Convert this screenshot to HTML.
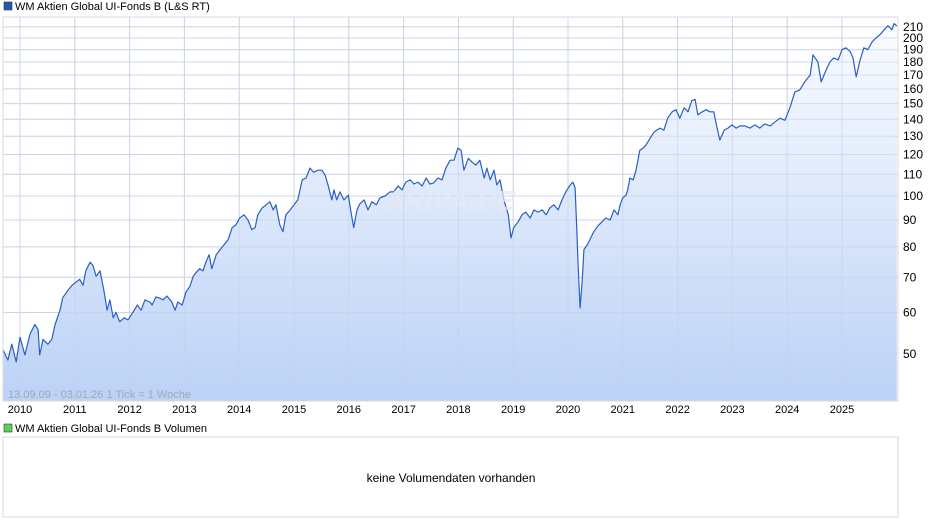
<!DOCTYPE html>
<html><head><meta charset="utf-8">
<style>
body{margin:0;background:#fff;font-family:"Liberation Sans",sans-serif;}
svg{display:block}
</style></head>
<body>
<svg id="c" width="940" height="526" viewBox="0 0 940 526">
<defs>
<linearGradient id="g" x1="0" y1="0" x2="0" y2="1">
<stop offset="0" stop-color="#fafcff"/>
<stop offset="1" stop-color="#b8cff6"/>
</linearGradient>
</defs>
<rect x="4" y="2" width="8" height="8" fill="#2456b8" stroke="#333" stroke-width="0.6"/>
<text x="15" y="10" font-size="11" fill="#000">WM Aktien Global UI-Fonds B (L&amp;S RT)</text>
<g id="grid"></g>
<g id="plot"></g>
<text x="450" y="210" font-size="28" font-style="italic" font-weight="bold" fill="#e6ebf3" text-anchor="middle" opacity="0.7">ARIVA.DE</text>
<rect x="3" y="17" width="895" height="384" fill="none" stroke="#d8d8d8"/>
<g id="axes"></g>
<text x="8" y="398" font-size="11" fill="#a0a8b4">13.09.09 - 03.01.26   1 Tick = 1 Woche</text>
<rect x="4" y="424" width="8" height="8" fill="#5cd05c" stroke="#333" stroke-width="0.6"/>
<text x="15" y="432" font-size="11" fill="#000">WM Aktien Global UI-Fonds B Volumen</text>
<rect x="3" y="437" width="895" height="80" fill="#fff" stroke="#d8d8d8"/>
<text x="451" y="482" font-size="12" fill="#000" text-anchor="middle">keine Volumendaten vorhanden</text>
</svg>
<script>
const dates=[2009.69,2009.78,2009.85,2009.93,2010.00,2010.09,2010.18,2010.27,2010.33,2010.36,2010.42,2010.51,2010.58,2010.64,2010.73,2010.78,2010.88,2010.95,2011.02,2011.09,2011.15,2011.20,2011.28,2011.33,2011.39,2011.46,2011.53,2011.59,2011.64,2011.70,2011.75,2011.82,2011.90,2011.97,2012.06,2012.14,2012.21,2012.28,2012.37,2012.41,2012.48,2012.55,2012.61,2012.68,2012.77,2012.83,2012.88,2012.96,2013.03,2013.10,2013.16,2013.21,2013.28,2013.34,2013.39,2013.45,2013.50,2013.58,2013.65,2013.72,2013.80,2013.87,2013.94,2014.01,2014.09,2014.16,2014.23,2014.29,2014.34,2014.42,2014.49,2014.56,2014.62,2014.67,2014.74,2014.80,2014.85,2014.93,2015.00,2015.07,2015.15,2015.22,2015.29,2015.36,2015.44,2015.51,2015.57,2015.62,2015.69,2015.73,2015.78,2015.84,2015.91,2015.99,2016.04,2016.09,2016.15,2016.20,2016.28,2016.35,2016.42,2016.50,2016.57,2016.66,2016.75,2016.82,2016.90,2016.97,2017.04,2017.12,2017.19,2017.26,2017.34,2017.41,2017.48,2017.55,2017.63,2017.70,2017.77,2017.85,2017.92,2017.99,2018.05,2018.10,2018.18,2018.25,2018.32,2018.39,2018.47,2018.52,2018.58,2018.65,2018.70,2018.76,2018.83,2018.91,2018.96,2019.01,2019.09,2019.16,2019.23,2019.31,2019.38,2019.45,2019.53,2019.60,2019.67,2019.74,2019.82,2019.89,2019.96,2020.04,2020.09,2020.13,2020.16,2020.18,2020.22,2020.26,2020.29,2020.35,2020.40,2020.47,2020.55,2020.62,2020.69,2020.77,2020.84,2020.91,2020.95,2021.00,2021.06,2021.09,2021.13,2021.19,2021.24,2021.31,2021.37,2021.42,2021.50,2021.57,2021.62,2021.68,2021.75,2021.82,2021.90,2021.97,2022.04,2022.12,2022.19,2022.26,2022.32,2022.37,2022.45,2022.52,2022.59,2022.66,2022.72,2022.77,2022.85,2022.92,2022.99,2023.07,2023.14,2023.23,2023.32,2023.41,2023.50,2023.59,2023.69,2023.78,2023.87,2023.96,2024.05,2024.14,2024.23,2024.32,2024.42,2024.47,2024.56,2024.62,2024.71,2024.78,2024.85,2024.93,2025.00,2025.07,2025.15,2025.20,2025.26,2025.33,2025.40,2025.47,2025.55,2025.62,2025.69,2025.77,2025.84,2025.91,2025.95,2026.00];
const prices=[50.9,48.7,52.2,48.3,53.8,49.8,54.5,56.9,55.7,49.8,53.3,52.2,53.3,56.9,60.6,64.0,66.2,67.6,68.5,69.4,67.6,72.0,74.8,73.8,70.3,72.0,66.2,60.6,63.4,58.6,60.0,57.6,58.6,58.1,60.0,62.0,60.6,63.4,62.8,62.0,64.2,63.9,63.4,64.5,62.8,60.6,62.8,62.0,65.6,67.3,70.3,71.4,72.7,72.0,74.8,77.3,72.7,77.3,79.0,80.7,82.6,87.0,88.1,90.8,92.1,90.0,86.3,87.0,92.1,94.9,96.2,97.5,94.1,96.2,88.1,85.5,92.1,94.1,96.2,98.3,107.3,108.2,113.0,111.0,112.0,112.0,109.5,105.0,98.3,102.7,98.3,101.8,98.3,100.4,93.2,87.0,94.1,96.6,98.3,94.1,97.5,96.2,99.2,100.0,101.8,101.8,104.5,102.7,106.3,107.3,105.4,106.3,104.5,108.2,105.4,105.9,108.2,107.3,113.0,117.0,117.0,123.4,122.2,112.0,118.0,116.0,114.5,117.0,108.2,113.0,107.3,112.0,105.0,107.3,98.3,92.1,83.2,87.0,89.3,92.1,93.2,90.8,94.1,93.2,94.1,92.1,94.9,96.2,94.1,98.3,101.8,105.0,106.3,103.6,86.3,75.5,61.2,68.9,79.0,80.7,82.6,85.5,87.8,89.3,90.8,90.0,94.1,92.1,96.2,99.2,100.4,102.7,108.2,107.3,112.0,122.2,123.4,124.9,128.9,132.3,133.5,134.7,133.5,140.7,144.7,146.0,140.7,147.3,144.7,152.0,152.7,142.7,144.7,146.0,144.7,144.7,134.7,127.8,133.5,134.7,136.6,134.7,136.0,136.0,134.7,136.6,134.7,137.2,136.0,138.5,140.7,139.4,147.3,157.9,159.3,165.0,170.0,185.8,180.0,165.0,173.8,180.0,183.3,181.7,190.0,191.6,188.4,183.3,168.6,181.7,191.6,190.0,196.6,200.0,202.8,207.3,211.0,207.3,213.0,211.0];
const yTicks=[50,60,70,80,90,100,110,120,130,140,150,160,170,180,190,200,210];
const xTicks=[2010,2011,2012,2013,2014,2015,2016,2017,2018,2019,2020,2021,2022,2023,2024,2025];

const NS='http://www.w3.org/2000/svg';
const L=3,R=898,T=17,B=401;
function xs(t){return 20+(t-2010)*54.8;}
function ys(v){return 196-158*Math.log2(v/100);}
function mk(tag,attrs,parent){const e=document.createElementNS(NS,tag);for(const k in attrs)e.setAttribute(k,attrs[k]);parent.appendChild(e);return e;}
const grid=document.getElementById('grid'),plot=document.getElementById('plot'),axes=document.getElementById('axes');
yTicks.forEach(v=>{
  const y=ys(v);
  const ln=mk('line',{x1:L,x2:R,y1:y,y2:y,stroke:'#dcdcdc','stroke-width':1},grid);
  
  
  const tx=mk('text',{x:903,y:y+4,'font-size':12,fill:'#000'},axes);
  tx.textContent=v;
  
  
});
xTicks.forEach(t=>{
  const x=xs(t);
  const ln=mk('line',{x1:x,x2:x,y1:T,y2:B,stroke:'#dcdcdc','stroke-width':1},grid);
  
  
  const tx=mk('text',{x:x,y:413,'font-size':11,fill:'#000','text-anchor':'middle'},axes);
  tx.textContent=t;
  
  
});
let d='';
dates.forEach((t,i)=>{d+=(i?'L':'M')+xs(t).toFixed(1)+','+ys(prices[i]).toFixed(1);});
const area=mk('path',{d:d+'L'+xs(dates[dates.length-1]).toFixed(1)+','+B+'L'+xs(dates[0]).toFixed(1)+','+B+'Z',fill:'url(#g)',opacity:0.95},plot);


// redraw gridlines over area faintly
yTicks.forEach(v=>{const y=ys(v);const ln=mk('line',{x1:L,x2:R,y1:y,y2:y,stroke:'#c4d2ea','stroke-width':1,opacity:0.6},plot);

});
xTicks.forEach(t=>{const x=xs(t);const ln=mk('line',{x1:x,x2:x,y1:T,y2:B,stroke:'#c4d2ea','stroke-width':1,opacity:0.6},plot);

});
const line=mk('path',{d:d,fill:'none',stroke:'#2a5fc4','stroke-width':1.2,'stroke-linejoin':'round'},plot);


</script>
</body></html>
